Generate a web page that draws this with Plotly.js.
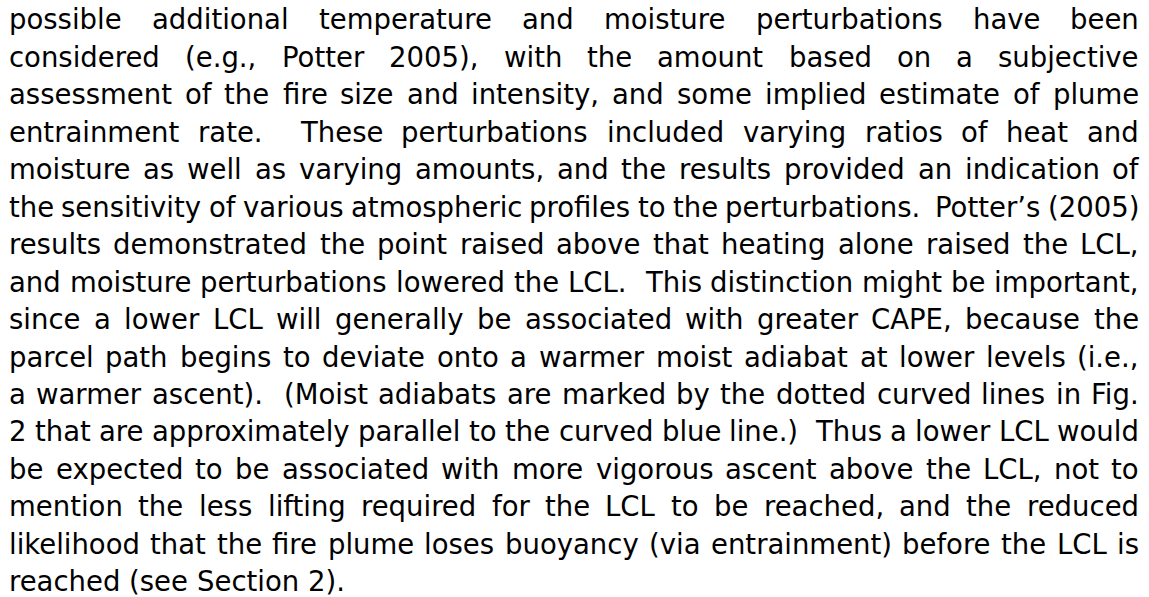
<!DOCTYPE html>
<html>
<head>
<meta charset="utf-8">
<script src="https://cdn.plot.ly/plotly-3.0.1.min.js"></script>
<style>
  html, body { margin: 0; padding: 0; background: #ffffff; }
  #chart { width: 1149px; height: 597px; }
</style>
</head>
<body>
<div id="chart"></div>
<script>
// ---- content ----
const lines = [
  "possible additional temperature and moisture perturbations have been",
  "considered (e.g., Potter 2005), with the amount based on a subjective",
  "assessment of the fire size and intensity, and some implied estimate of plume",
  "entrainment rate.  These perturbations included varying ratios of heat and",
  "moisture as well as varying amounts, and the results provided an indication of",
  "the sensitivity of various atmospheric profiles to the perturbations.  Potter\u2019s (2005)",
  "results demonstrated the point raised above that heating alone raised the LCL,",
  "and moisture perturbations lowered the LCL.  This distinction might be important,",
  "since a lower LCL will generally be associated with greater CAPE, because the",
  "parcel path begins to deviate onto a warmer moist adiabat at lower levels (i.e.,",
  "a warmer ascent).  (Moist adiabats are marked by the dotted curved lines in Fig.",
  "2 that are approximately parallel to the curved blue line.)  Thus a lower LCL would",
  "be expected to be associated with more vigorous ascent above the LCL, not to",
  "mention the less lifting required for the LCL to be reached, and the reduced",
  "likelihood that the fire plume loses buoyancy (via entrainment) before the LCL is",
  "reached (see Section 2)."
];
const justified = lines.map((_, i) => i < lines.length - 1);

// ---- layout parameters ----
const W = 1149, H = 597;
const fontFamily = "DejaVu Sans";
const fontSize = 27.5;
const left = 9, right = 1139;
const firstBaseline = 29, lineStep = 37.45;
const centerOffset = 0.346 * fontSize;

const ctx = document.createElement("canvas").getContext("2d");
ctx.font = fontSize + "px '" + fontFamily + "'";
const meas = s => ctx.measureText(s).width;
const spaceW = meas(" ");

const annotations = [];
lines.forEach((line, li) => {
  const tokens = line.split(" ");
  const nSpaces = tokens.length - 1;
  const wordsW = tokens.reduce((a, t) => a + (t ? meas(t) : 0), 0);
  let gap = spaceW;
  if (justified[li] && nSpaces > 0) {
    gap = (right - left - wordsW) / nSpaces;
  }
  const yc = firstBaseline + li * lineStep - centerOffset;
  let x = left;
  tokens.forEach((t, ti) => {
    if (t) {
      annotations.push({
        x: x, y: yc, xref: "x", yref: "y",
        text: t, showarrow: false,
        xanchor: "left", yanchor: "middle",
        borderpad: 0, borderwidth: 0,
        font: { family: fontFamily, size: fontSize, color: "#000000" }
      });
      x += meas(t);
    }
    if (ti < tokens.length - 1) x += gap;
  });
});

const layout = {
  width: W, height: H,
  margin: { l: 0, r: 0, t: 0, b: 0, pad: 0 },
  paper_bgcolor: "#ffffff", plot_bgcolor: "#ffffff",
  showlegend: false,
  xaxis: { range: [0, W], visible: false, fixedrange: true },
  yaxis: { range: [H, 0], visible: false, fixedrange: true },
  annotations: annotations
};

Plotly.newPlot("chart", [], layout, { staticPlot: true, displayModeBar: false });
</script>
</body>
</html>
